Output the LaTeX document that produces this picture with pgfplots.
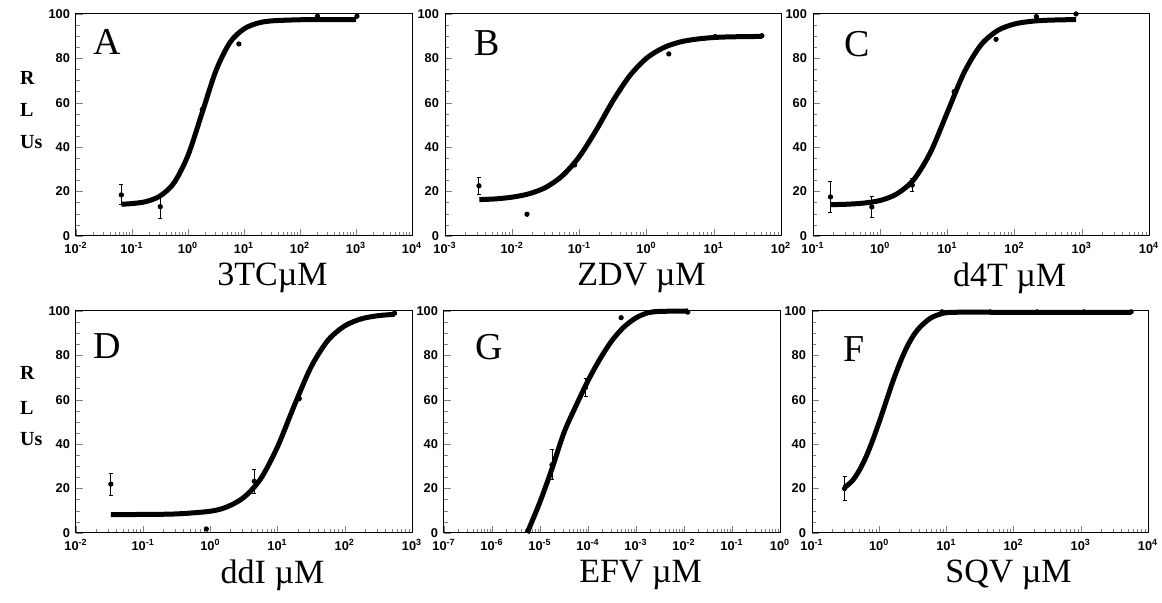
\documentclass[border=0pt]{standalone}
\usepackage{fontspec}
\setmainfont{Liberation Serif}
\setsansfont{Liberation Sans}
\usepackage{pgfplots}
\pgfplotsset{compat=1.18}

% tick numbers in the text font; decade labels as bold text
\pgfkeys{/pgf/number format/assume math mode=true}
\pgfplotsset{log number format basis/.code 2 args={#1\textsuperscript{\pgfmathprintnumber{#2}}}}

% common look of the six dose-response panels
\pgfplotsset{
  every axis/.append style={
    scale only axis, width=168pt, height=111pt,
    ymin=0, ymax=100, ytick={0,20,40,60,80,100}, minor y tick num=3,
    tick pos=left, tick align=inside, major tick length=3.5pt, minor tick length=2pt,
    max space between ticks=20,
    axis line style={line width=0.5pt},
    tick label style={font=\sffamily\bfseries\fontsize{6.4}{7}\selectfont},
    xticklabel style={yshift=0.5pt},
    yticklabel style={xshift=0.5pt},
    xlabel style={at={(axis description cs:0.585,-0.19)}, anchor=center, font=\fontsize{17}{18}\selectfont},
    clip=false,
  },
}
\tikzset{paneltag/.style={font=\fontsize{19}{20}\selectfont}}

\begin{document}
\begin{tikzpicture}
\useasboundingbox (0,0) rectangle (581pt,301.5pt);

% side label, both rows
\foreach \yy/\lab in {262.5/R, 246.5/L, 230.5/Us, 115/R, 97.5/L, 82/Us}
  \node[anchor=west, font=\bfseries\fontsize{10}{11}\selectfont] at (6.5pt,\yy pt) {\lab};

% A: 3TC
\begin{axis}[xmode=log, at={(38pt,183.5pt)}, anchor=south west, xmin=1e-2, xmax=1e4, xlabel={3TCµM}]
\addplot[black, line width=2.5pt, smooth, no markers] coordinates {(0.0646,14.3)(0.1,14.6)(0.178,15.5)(0.316,18.0)(0.562,23.9)(1,36.3)(1.778,55.3)(3.162,74.5)(5.623,87.2)(10,93.3)(17.78,95.9)(31.62,96.9)(100,97.4)(316,97.5)(1000,97.5)};
\addplot[black, only marks, mark=*, mark size=1.1pt, error bars/y dir=both, error bars/y explicit, error bars/error bar style={line width=0.5pt}, error bars/error mark options={rotate=90, mark size=1pt, line width=0.5pt}] coordinates {(0.0646,18.5) +- (0,4.5) (0.32,13.2) +- (0,5.2)};
\addplot[black, only marks, mark=*, mark size=1.1pt] coordinates {(1.8,57)(8.1,86.5)(205,99)(1040,99)};
\node[paneltag] at (axis description cs:0.092,0.873) {A};
\end{axis}

% B: ZDV
\begin{axis}[xmode=log, at={(222.5pt,183.5pt)}, anchor=south west, xmin=1e-3, xmax=1e2, xlabel={ZDV µM}]
\addplot[black, line width=2.5pt, smooth, no markers] coordinates {(0.00324,16.4)(0.00562,16.7)(0.01,17.5)(0.0178,19.0)(0.0316,21.9)(0.0562,27.2)(0.1,35.8)(0.178,47.7)(0.316,60.9)(0.562,72.2)(1,80.1)(1.778,84.8)(3.162,87.4)(5.623,88.7)(10,89.4)(17.78,89.7)(52.5,89.9)};
\addplot[black, only marks, mark=*, mark size=1.1pt, error bars/y dir=both, error bars/y explicit, error bars/error bar style={line width=0.5pt}, error bars/error mark options={rotate=90, mark size=1pt, line width=0.5pt}] coordinates {(0.0032,22.6) +- (0,3.7)};
\addplot[black, only marks, mark=*, mark size=1.1pt] coordinates {(0.0166,9.8)(0.085,32)(0.40,65.7)(2.14,82)(10.5,89.8)(52,90.2)};
\node[paneltag] at (axis description cs:0.125,0.87) {B};
\end{axis}

% C: d4T
\begin{axis}[xmode=log, at={(406.5pt,183.5pt)}, anchor=south west, xmin=1e-1, xmax=1e4, xlabel={d4T µM}]
\addplot[black, line width=2.5pt, smooth, no markers] coordinates {(0.182,14.1)(0.316,14.3)(0.562,14.8)(1,16.0)(1.778,19.0)(3.162,25.4)(5.623,37.8)(10,55.75)(17.78,73.7)(31.62,86.1)(56.23,92.6)(100,95.5)(177.8,96.7)(316.2,97.2)(822,97.5)};
\addplot[black, only marks, mark=*, mark size=1.1pt, error bars/y dir=both, error bars/y explicit, error bars/error bar style={line width=0.5pt}, error bars/error mark options={rotate=90, mark size=1pt, line width=0.5pt}] coordinates {(0.182,17.6) +- (0,6.8) (0.75,13.1) +- (0,4.9) (3.0,22.9) +- (0,3)};
\addplot[black, only marks, mark=*, mark size=1.1pt] coordinates {(12.6,65)(53,88.6)(211,98.8)(822,100)};
\node[paneltag] at (axis description cs:0.131,0.865) {C};
\end{axis}

% D: ddI
\begin{axis}[xmode=log, at={(38pt,35pt)}, anchor=south west, xmin=1e-2, xmax=1e3, xlabel={ddI µM}]
\addplot[black, line width=2.5pt, smooth, no markers] coordinates {(0.0331,8.3)(0.1,8.35)(0.316,8.6)(1,9.8)(1.778,11.8)(3.162,16.1)(5.623,24.5)(10,38.9)(17.78,57.5)(31.62,74.9)(56.23,86.8)(100,93.3)(177.8,96.5)(316.2,97.9)(550,98.5)};
\addplot[black, only marks, mark=*, mark size=1.1pt, error bars/y dir=both, error bars/y explicit, error bars/error bar style={line width=0.5pt}, error bars/error mark options={rotate=90, mark size=1pt, line width=0.5pt}] coordinates {(0.033,22) +- (0,5) (4.5,23.3) +- (0,5.3)};
\addplot[black, only marks, mark=*, mark size=1.1pt] coordinates {(0.87,1.8)(21,60.5)(110,94)(550,99)};
\node[paneltag] at (axis description cs:0.092,0.84) {D};
\end{axis}

% G: EFV
\begin{axis}[xmode=log, at={(222pt,35pt)}, anchor=south west, xmin=1e-7, xmax=1, xlabel={EFV µM}]
\addplot[black, line width=2.5pt, smooth, no markers] coordinates {(5.4e-6,0)(1e-5,14)(1.78e-5,29)(3.16e-5,45.2)(5.62e-5,57.3)(1e-4,68.6)(1.78e-4,78.4)(3.16e-4,86.7)(5.62e-4,92.8)(1e-3,96.9)(1.78e-3,99.2)(3.16e-3,99.8)(0.012,100)};
\addplot[black, only marks, mark=*, mark size=1.1pt, error bars/y dir=both, error bars/y explicit, error bars/error bar style={line width=0.5pt}, error bars/error mark options={rotate=90, mark size=1pt, line width=0.5pt}] coordinates {(1.78e-5,30.7) +- (0,6.7) (8.9e-5,65.6) +- (0,4.2)};
\addplot[black, only marks, mark=*, mark size=1.1pt] coordinates {(4.9e-4,97)(2.45e-3,99.7)(0.012,99.5)};
\node[paneltag] at (axis description cs:0.134,0.837) {G};
\end{axis}

% F: SQV
\begin{axis}[xmode=log, at={(406pt,35pt)}, anchor=south west, xmin=1e-1, xmax=1e4, xlabel={SQV µM}]
\addplot[black, line width=2.5pt, smooth, no markers] coordinates {(0.305,20.5)(0.398,23.5)(0.501,28)(0.631,34)(0.794,41.5)(1,50)(1.259,59)(1.585,68)(1.995,76)(2.512,83)(3.162,88.5)(3.981,92.5)(5.623,96.5)(7.943,98.5)(12.59,99.4)(100,99.4)(1000,99.4)(5600,99.4)};
\addplot[black, only marks, mark=*, mark size=1.1pt, error bars/y dir=both, error bars/y explicit, error bars/error bar style={line width=0.5pt}, error bars/error mark options={rotate=90, mark size=1pt, line width=0.5pt}] coordinates {(0.305,20) +- (0,5.3)};
\addplot[black, only marks, mark=*, mark size=1.1pt] coordinates {(8.6,99.6)(45,99.6)(224,99.6)(1120,99.6)(5600,99.6)};
\node[paneltag] at (axis description cs:0.125,0.83) {F};
\end{axis}
\end{tikzpicture}
\end{document}
